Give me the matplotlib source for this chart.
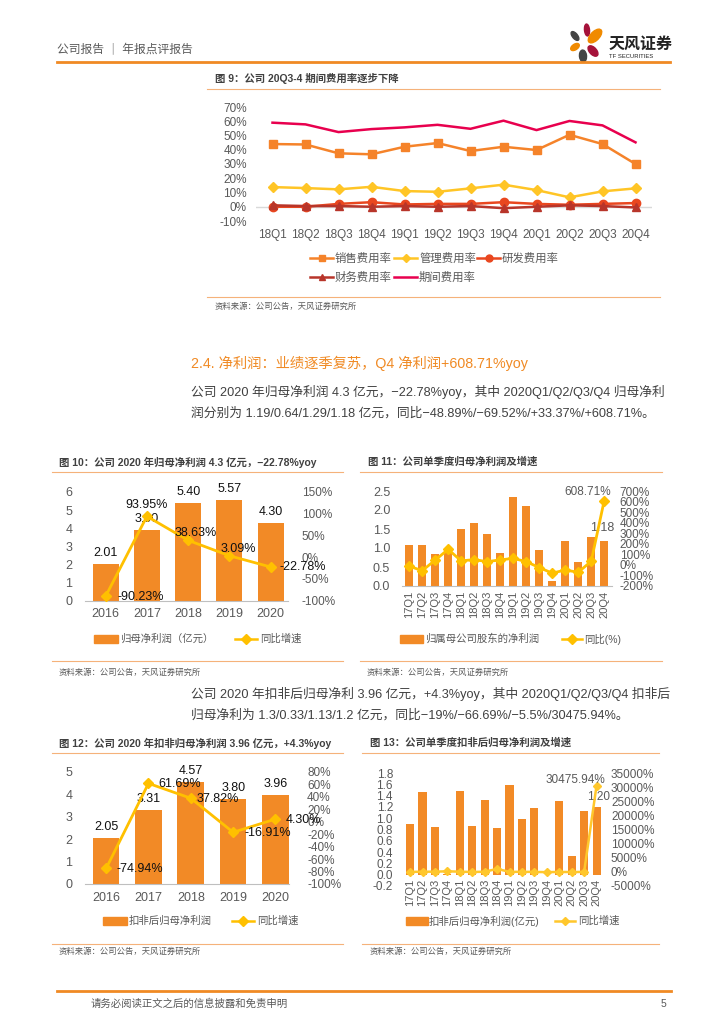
import matplotlib
matplotlib.use('Agg')
import matplotlib.pyplot as plt
from matplotlib.lines import Line2D
from matplotlib.patches import Rectangle, Ellipse
from matplotlib import font_manager as fm
import numpy as np

# ---------------- data ----------------
q9 = ['18Q1', '18Q2', '18Q3', '18Q4', '19Q1', '19Q2', '19Q3', '19Q4', '20Q1', '20Q2', '20Q3', '20Q4']
sales_rate = [44, 43.7, 37.5, 36.8, 42.1, 44.7, 39.1, 42.1, 39.8, 50.5, 44, 30]
admin_rate = [13.8, 13.1, 12.2, 14, 11, 10.5, 12.9, 15.5, 11.7, 6.6, 10.8, 12.9]
rd_rate = [0, 0, 2, 3.2, 1.6, 2, 2, 3.2, 2, 1.4, 2, 2.6]
fin_rate = [1, 0.5, 0.5, 0, 0.5, 0, 0.5, -1, 0, 1, 0.5, -0.5]
period_rate = [59, 57.8, 52.4, 54.5, 55.7, 57.5, 54.7, 60.4, 53.8, 60.2, 57.1, 45.2]

years = ['2016', '2017', '2018', '2019', '2020']
net_profit = [2.01, 3.90, 5.40, 5.57, 4.30]
net_growth = [-90.23, 93.95, 38.63, 3.09, -22.78]

quarters = ['17Q1', '17Q2', '17Q3', '17Q4', '18Q1', '18Q2', '18Q3', '18Q4',
            '19Q1', '19Q2', '19Q3', '19Q4', '20Q1', '20Q2', '20Q3', '20Q4']
q_net = [1.07, 1.08, 0.85, 0.93, 1.5, 1.66, 1.37, 0.86, 2.33, 2.1, 0.96, 0.14, 1.19, 0.64, 1.29, 1.18]
q_net_growth = [-12, -55, 45, 147, 38, 50, 31, 47, 62, 31, -25, -78, -48.89, -69.52, 33.37, 608.71]

ded_profit = [2.05, 3.31, 4.57, 3.80, 3.96]
ded_growth = [-74.94, 61.69, 37.82, -16.91, 4.30]

q_ded = [0.89, 1.46, 0.84, 0.02, 1.49, 0.86, 1.33, 0.83, 1.59, 0.99, 1.18, 0.0, 1.3, 0.33, 1.13, 1.20]
q_ded_growth = [0, 50, 80, 200, 70, -40, 60, 1050, 10, 15, -10, -100, -19, -66.69, -5.5, 30475.94]

# ---------------- style ----------------
W, H = 724, 1024
plt.rcParams['font.family'] = ['Liberation Sans', 'Noto Sans CJK SC', 'DejaVu Sans']
names = {f.name for f in fm.fontManager.ttflist}
NARROW = ['Liberation Sans Narrow', 'Noto Sans CJK SC'] if 'Liberation Sans Narrow' in names else ['Liberation Sans', 'Noto Sans CJK SC']

ORANGE = '#F28A26'
YELLOW = '#FFC000'
LINEC = '#F5B27A'
DARK = '#404040'
GRAY = '#595959'

fig = plt.figure(figsize=(W / 100, H / 100), dpi=100)


def fx(x):
    return x / W


def fy(y):
    return 1 - y / H


def axes_px(x0, y0, x1, y1):
    return fig.add_axes([x0 / W, 1 - y1 / H, (x1 - x0) / W, (y1 - y0) / H])


def text(x, y, s, size=8, color=DARK, ha='left', va='center', **kw):
    return fig.text(fx(x), fy(y), s, fontsize=size, color=color, ha=ha, va=va, **kw)


def hline(x0, x1, y, color=LINEC, lw=0.8):
    fig.add_artist(Line2D([fx(x0), fx(x1)], [fy(y), fy(y)], color=color, lw=lw,
                          transform=fig.transFigure))


def leg_line(x0, x1, y, color, label, size, tx, marker=None, ms=6):
    fig.add_artist(Line2D([fx(x0), fx(x1)], [fy(y)] * 2, color=color, lw=1.8,
                          transform=fig.transFigure))
    if marker:
        fig.add_artist(Line2D([fx((x0 + x1) / 2)], [fy(y)], marker=marker, ms=ms, color=color,
                              lw=0, transform=fig.transFigure))
    text(tx, y, label, size=size, color=GRAY)


def leg_bar(x0, x1, y, color, label, size, tx):
    fig.add_artist(Rectangle((fx(x0), fy(y + 4)), fx(x1) - fx(x0), 8 / H, color=color,
                             transform=fig.transFigure))
    text(tx, y, label, size=size, color=GRAY)


def clean(ax, bottom=True):
    for s in ax.spines.values():
        s.set_visible(False)
    if bottom:
        ax.spines['bottom'].set_visible(True)
        ax.spines['bottom'].set_color('#BFBFBF')
        ax.spines['bottom'].set_linewidth(0.8)
    ax.tick_params(length=0)
    ax.set_facecolor('none')


# ---------------- header ----------------
text(57, 50, '公司报告 ｜ 年报点评报告', size=8.5, color=GRAY)
hline(57, 670, 61.5, color='#F08A24', lw=2.0)
for (cx, cy, w, h, ang, c) in [(587, 30, 5, 12, 10, '#A5123A'), (595, 36, 15, 10, 30, '#F08A00'),
                                (575, 36, 9, 6, -35, '#444444'), (575, 47, 9, 6, 20, '#F08A00'),
                                (593, 51, 11, 8, -30, '#A5123A'), (583, 56, 7, 12, 15, '#444444')]:
    fig.add_artist(Ellipse((fx(cx), fy(cy)), w / W, h / H, angle=ang, color=c,
                           transform=fig.transFigure))
text(609, 44, '天风证券', size=11.5, color='#222222', fontweight='bold')
text(609, 56, 'TF SECURITIES', size=4.2, color='#222222')

# ---------------- chart 9 ----------------
text(215, 79, '图 9：公司 20Q3-4 期间费用率逐步下降', size=7.5, color=DARK, fontweight='bold')
hline(207, 660, 88.5)
ax9 = axes_px(256, 107, 652, 221)
clean(ax9, bottom=False)
x9 = np.arange(len(q9))
ax9.axhline(0, color='#D9D9D9', lw=1.0, zorder=0)
ax9.plot(x9, sales_rate, color='#F5832A', marker='s', ms=6, lw=1.8, zorder=3)
ax9.plot(x9, admin_rate, color='#FFC526', marker='D', ms=5, lw=1.8, zorder=3)
ax9.plot(x9, rd_rate, color='#E9471F', marker='o', ms=6, lw=1.8, zorder=4)
ax9.plot(x9, fin_rate, color='#B8352A', marker='^', ms=6, lw=1.8, zorder=4)
ax9.plot(x9, period_rate, color='#E8004E', lw=1.8, zorder=3)
ax9.set_xlim(-0.5, 11.5)
ax9.set_ylim(-10, 70)
ax9.set_yticks(range(-10, 71, 10))
ax9.set_yticklabels([f'{v}%' for v in range(-10, 71, 10)], fontsize=8.5, color=GRAY)
ax9.set_xticks(x9)
ax9.set_xticklabels(q9, fontsize=8.5, color=GRAY)
ax9.tick_params(axis='y', pad=6.5)
ax9.tick_params(axis='x', pad=6)
leg_line(310, 333, 258, '#F5832A', '销售费用率', 8.2, 335, marker='s', ms=5)
leg_line(394, 417, 258, '#FFC526', '管理费用率', 8.2, 419, marker='D', ms=4.5)
leg_line(477, 500, 258, '#E9471F', '研发费用率', 8.2, 502, marker='o', ms=5)
leg_line(310, 333, 277, '#B8352A', '财务费用率', 8.2, 335, marker='^', ms=5)
leg_line(394, 417, 277, '#E8004E', '期间费用率', 8.2, 419)
hline(207, 660, 297)
text(215, 307, '资料来源：公司公告，天风证券研究所', size=6, color=GRAY)

# ---------------- section text ----------------
text(191, 363, '2.4. 净利润：业绩逐季复苏，Q4 净利润+608.71%yoy', size=10.3, color='#F08A24')
text(191, 392, '公司 2020 年归母净利润 4.3 亿元，−22.78%yoy，其中 2020Q1/Q2/Q3/Q4 归母净利',
     size=9.2, color=DARK)
text(191, 413, '润分别为 1.19/0.64/1.29/1.18 亿元，同比−48.89%/−69.52%/+33.37%/+608.71%。',
     size=9.2, color=DARK)

# ---------------- chart 10 ----------------
text(59, 462, '图 10：公司 2020 年归母净利润 4.3 亿元，−22.78%yoy', size=7.5, color=DARK, fontweight='bold')
hline(52, 343, 471.5)
ax10 = axes_px(85, 492, 288, 600.5)
clean(ax10)
xy = np.arange(len(years))
ax10.bar(xy, net_profit, width=0.63, color=ORANGE, zorder=2)
ax10.set_ylim(0, 6)
ax10.set_xlim(-0.5, 4.42)
ax10.set_yticks(range(0, 7))
ax10.set_yticklabels([str(v) for v in range(0, 7)], fontsize=9, color=GRAY)
ax10.set_xticks(xy)
ax10.set_xticklabels(years, fontsize=9, color=GRAY)
ax10.tick_params(axis='y', pad=9)
ax10.tick_params(axis='x', pad=5.5)
for i, v in enumerate(net_profit):
    ax10.annotate(f'{v:.2f}', (i, v), xytext=(0, 11), textcoords='offset pixels',
                  ha='center', va='center', fontsize=9, color='#111111', zorder=6)
ax10b = ax10.twinx()
clean(ax10b, bottom=False)
ax10b.plot(xy, net_growth, color=YELLOW, marker='D', ms=5, lw=2, zorder=5)
ax10b.set_ylim(-100, 150)
ax10b.set_yticks(range(-100, 151, 50))
ax10b.set_yticklabels([f'{v}%' for v in range(-100, 151, 50)], fontsize=8.5, color=GRAY, family=NARROW)
ax10b.tick_params(axis='y', pad=10)
offs10 = [(12, -1, 'left'), (0, 11, 'center'), (8, 7, 'center'), (9, 7, 'center'), (9, 0, 'left')]
for i, v in enumerate(net_growth):
    dx, dy, ha = offs10[i]
    ax10b.annotate(f'{v:.2f}%', (i, v), xytext=(dx, dy), textcoords='offset pixels',
                   ha=ha, va='center', fontsize=9, color='#111111', zorder=6)
leg_bar(94, 118, 639, ORANGE, '归母净利润（亿元）', 7.5, 120)
leg_line(235, 257, 639, YELLOW, '同比增速', 7.5, 260, marker='D', ms=5)
hline(52, 343, 661)
text(59, 673, '资料来源：公司公告，天风证券研究所', size=6, color=GRAY)

# ---------------- chart 11 ----------------
text(368, 462, '图 11：公司单季度归母净利润及增速', size=7.5, color=DARK, fontweight='bold')
hline(360, 662, 471.5)
ax11 = axes_px(402, 491, 612, 586)
clean(ax11)
xq = np.arange(len(quarters))
ax11.bar(xq, q_net, width=0.62, color=ORANGE, zorder=2)
ax11.set_ylim(0, 2.5)
ax11.set_xlim(-0.55, 15.6)
ax11.set_yticks(np.arange(0, 2.51, 0.5))
ax11.set_yticklabels([f'{v:.1f}' for v in np.arange(0, 2.51, 0.5)], fontsize=9, color=GRAY)
ax11.set_xticks(xq)
ax11.set_xticklabels(quarters, fontsize=8, color=GRAY, rotation=90)
ax11.tick_params(axis='y', pad=8.5)
ax11.tick_params(axis='x', pad=3.5)
ax11.annotate(f'{q_net[-1]:.2f}', (15, q_net[-1]), xytext=(-2, 13), textcoords='offset pixels',
              ha='center', va='center', fontsize=9, color=GRAY, zorder=6)
ax11b = ax11.twinx()
clean(ax11b, bottom=False)
ax11b.plot(xq, q_net_growth, color=YELLOW, marker='D', ms=5, lw=2, zorder=5)
ax11b.set_ylim(-200, 700)
ax11b.set_yticks(range(-200, 701, 100))
ax11b.set_yticklabels([f'{v}%' for v in range(-200, 701, 100)], fontsize=8.5, color=GRAY, family=NARROW)
ax11b.tick_params(axis='y', pad=5.5)
ax11b.annotate(f'{q_net_growth[-1]:.2f}%', (15, q_net_growth[-1]), xytext=(-17, 9),
               textcoords='offset pixels', ha='center', va='center', fontsize=8.5, color=GRAY,
               family=NARROW, zorder=6)
leg_bar(400, 423, 639, ORANGE, '归属母公司股东的净利润', 7.5, 425)
leg_line(562, 582, 639, YELLOW, '同比(%)', 7.5, 584, marker='D', ms=5)
hline(360, 662, 661)
text(367, 673, '资料来源：公司公告，天风证券研究所', size=6, color=GRAY)

# ---------------- body text 2 ----------------
text(191, 694, '公司 2020 年扣非后归母净利 3.96 亿元，+4.3%yoy，其中 2020Q1/Q2/Q3/Q4 扣非后',
     size=9.2, color=DARK)
text(191, 715, '归母净利为 1.3/0.33/1.13/1.2 亿元，同比−19%/−66.69%/−5.5%/30475.94%。',
     size=9.2, color=DARK)

# ---------------- chart 12 ----------------
text(59, 743, '图 12：公司 2020 年扣非归母净利润 3.96 亿元，+4.3%yoy', size=7.5, color=DARK, fontweight='bold')
hline(52, 343, 753)
ax12 = axes_px(85, 772, 289, 884)
clean(ax12)
ax12.bar(xy, ded_profit, width=0.63, color=ORANGE, zorder=2)
ax12.set_ylim(0, 5)
ax12.set_xlim(-0.5, 4.32)
ax12.set_yticks(range(0, 6))
ax12.set_yticklabels([str(v) for v in range(0, 6)], fontsize=9, color=GRAY)
ax12.set_xticks(xy)
ax12.set_xticklabels(years, fontsize=9, color=GRAY)
ax12.tick_params(axis='y', pad=9)
ax12.tick_params(axis='x', pad=5.5)
for i, v in enumerate(ded_profit):
    ax12.annotate(f'{v:.2f}', (i, v), xytext=(0, 11), textcoords='offset pixels',
                  ha='center', va='center', fontsize=9, color='#111111', zorder=6)
ax12b = ax12.twinx()
clean(ax12b, bottom=False)
ax12b.plot(xy, ded_growth, color=YELLOW, marker='D', ms=5, lw=2, zorder=5)
ax12b.set_ylim(-100, 80)
ax12b.set_yticks(range(-100, 81, 20))
ax12b.set_yticklabels([f'{v}%' for v in range(-100, 81, 20)], fontsize=8.5, color=GRAY, family=NARROW)
ax12b.tick_params(axis='y', pad=13)
offs12 = [(10, -1), (10, -1), (6, -1), (11, -1), (10, -1)]
for i, v in enumerate(ded_growth):
    dx, dy = offs12[i]
    ax12b.annotate(f'{v:.2f}%', (i, v), xytext=(dx, dy), textcoords='offset pixels',
                   ha='left', va='center', fontsize=9, color='#111111', zorder=6)
leg_bar(103, 127, 921, ORANGE, '扣非后归母净利润', 7.5, 129)
leg_line(232, 254, 921, YELLOW, '同比增速', 7.5, 257, marker='D', ms=5)
hline(52, 343, 944)
text(59, 952, '资料来源：公司公告，天风证券研究所', size=6, color=GRAY)

# ---------------- chart 13 ----------------
text(370, 743, '图 13：公司单季度扣非后归母净利润及增速', size=7.5, color=DARK, fontweight='bold')
hline(362, 659, 753)
ax13 = axes_px(402, 773, 604, 886)
clean(ax13, bottom=False)
ax13.spines['bottom'].set_position(('data', 0))
ax13.bar(xq, q_ded, width=0.65, color=ORANGE, zorder=2)
ax13.set_ylim(-0.2, 1.8)
ax13.set_xlim(-0.65, 15.6)
yt13 = np.round(np.arange(-0.2, 1.81, 0.2), 1)
ax13.set_yticks(yt13)
ax13.set_yticklabels([f'{v:.1f}' for v in yt13], fontsize=8.5, color=GRAY)
ax13.set_xticks(xq)
ax13.set_xticklabels(quarters, fontsize=8, color=GRAY, rotation=90)
ax13.tick_params(axis='y', pad=6.5)
ax13.tick_params(axis='x', pad=3)
ax13.annotate(f'{q_ded[-1]:.2f}', (15, q_ded[-1]), xytext=(2, 10), textcoords='offset pixels',
              ha='center', va='center', fontsize=8.5, color=GRAY, zorder=6)
ax13b = ax13.twinx()
clean(ax13b, bottom=False)
ax13b.plot(xq, q_ded_growth, color='#FFC72C', marker='D', ms=4.5, lw=1.8, zorder=5)
ax13b.set_ylim(-5000, 35000)
ax13b.set_yticks(range(-5000, 35001, 5000))
ax13b.set_yticklabels([f'{v}%' for v in range(-5000, 35001, 5000)], fontsize=8.5, color=GRAY, family=NARROW)
ax13b.tick_params(axis='y', pad=5)
ax13b.annotate(f'{q_ded_growth[-1]:.2f}%', (15, q_ded_growth[-1]), xytext=(-21, 6),
               textcoords='offset pixels', ha='center', va='center', fontsize=8.5, color=GRAY,
               family=NARROW, zorder=6)
leg_bar(406, 428, 921, ORANGE, '扣非后归母净利润(亿元)', 7.5, 429)
leg_line(555, 575, 921, '#FFC72C', '同比增速', 7.5, 578, marker='D', ms=4.5)
hline(362, 659, 944)
text(370, 952, '资料来源：公司公告，天风证券研究所', size=6, color=GRAY)

# ---------------- footer ----------------
hline(57, 671, 991, color='#F08A24', lw=2.0)
text(91, 1004, '请务必阅读正文之后的信息披露和免责申明', size=7.5, color=GRAY)
text(661, 1004, '5', size=7.5, color=GRAY)

fig.savefig('out.png', dpi=100)
